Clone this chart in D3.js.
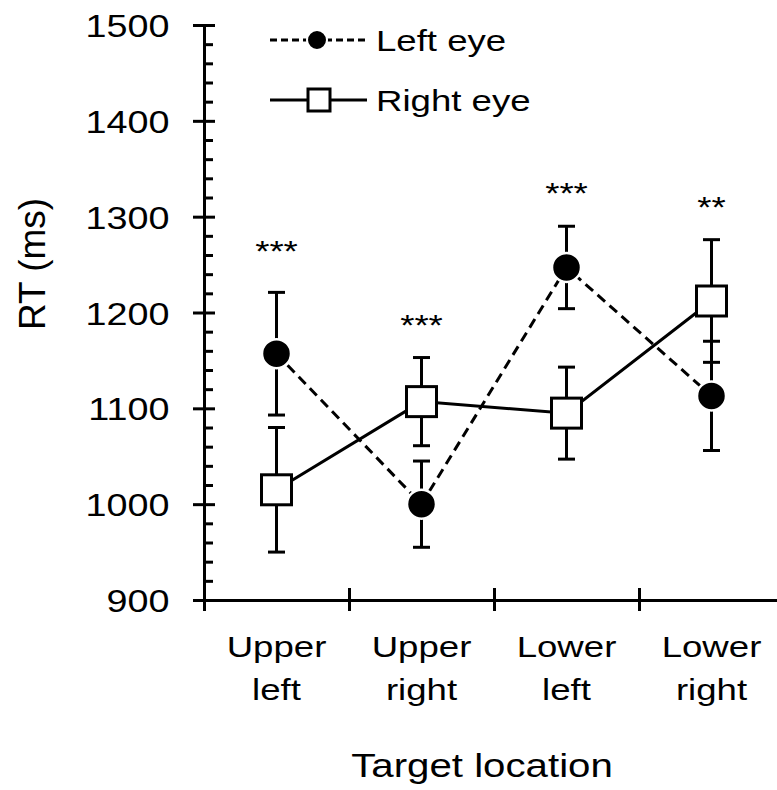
<!DOCTYPE html>
<html>
<head>
<meta charset="utf-8">
<script src="https://cdn.jsdelivr.net/npm/d3@7"></script>
<style>
body { margin: 0; background: #fff; }
text { font-family: "Liberation Sans", Arial, sans-serif; fill: #000; }
</style>
</head>
<body>
<svg width="777" height="790"></svg>
<script>
// values
var categories = ["Upper left", "Upper right", "Lower left", "Lower right"];
var categoryLines = [["Upper", "left"], ["Upper", "right"], ["Lower", "left"], ["Lower", "right"]];
var leftEyeRT = [1157, 1000, 1247, 1113];
var leftEyeErr = [64, 45, 43, 57];
var rightEyeRT = [1015, 1107, 1095, 1212];
var rightEyeErr = [65, 46, 48, 64];
var sigLabels = ["***", "***", "***", "**"];
var sigRT = [1254, 1177, 1314, 1300];
var yTicks = [900, 1000, 1100, 1200, 1300, 1400, 1500];

var svg = d3.select("svg");
var stretch = 1.22;

var x = d3.scaleBand().domain(categories).range([204, 784]);
var edge = d3.scaleLinear().domain([0, categories.length]).range([204, 784]);
var y = d3.scaleLinear().domain([900, 1500]).range([600, 25]);

function cx(i) { return x(categories[i]) + x.bandwidth() / 2; }

// y axis: labelled major ticks on the left, minor ticks inside
var yAxis = svg.append("g")
    .attr("transform", "translate(204,0)")
    .call(d3.axisLeft(y).tickValues(yTicks).tickFormat(d3.format("d")).tickSize(11).tickSizeOuter(0));
yAxis.select(".domain").attr("stroke-width", 3);
yAxis.selectAll(".tick line").attr("stroke-width", 3);
yAxis.selectAll(".tick text")
    .attr("x", null)
    .attr("dy", null)
    .attr("transform", "translate(-34.5,11.5) scale(1.18,1)")
    .style("font-size", "32px");

var yMinor = svg.append("g")
    .attr("transform", "translate(204,0)")
    .call(d3.axisRight(y).tickValues(d3.range(900, 1501, 20)).tickSize(9).tickFormat(""));
yMinor.select(".domain").remove();
yMinor.selectAll(".tick line")
    .attr("stroke-width", 3)
    .attr("x2", function(d) { return d % 100 === 0 ? 11 : 9; });

// x axis with ticks at the category edges
var xAxis = svg.append("g")
    .attr("transform", "translate(0,600)")
    .call(d3.axisBottom(edge).ticks(categories.length).tickSize(11).tickFormat("").tickSizeOuter(0));
xAxis.select(".domain").attr("stroke-width", 3);
xAxis.selectAll(".tick line").attr("stroke-width", 3);

var xTop = svg.append("g")
    .attr("transform", "translate(0,600)")
    .call(d3.axisTop(edge).ticks(categories.length).tickSize(12).tickFormat(""));
xTop.select(".domain").remove();
xTop.selectAll(".tick line").attr("stroke-width", 3);

// category labels
var catText = svg.append("g").selectAll("text")
    .data(categoryLines)
    .enter().append("text")
    .attr("text-anchor", "middle")
    .attr("transform", function(d, i) { return "translate(" + cx(i) + ",657) scale(" + stretch + ",1)"; })
    .style("font-size", "30px");
catText.selectAll("tspan")
    .data(function(d) { return d; })
    .enter().append("tspan")
    .attr("x", 0)
    .attr("dy", function(d, j) { return j === 0 ? 0 : 43.3; })
    .text(function(d) { return d; });

// axis titles
svg.append("text")
    .attr("text-anchor", "middle")
    .attr("transform", "translate(482,777) scale(" + stretch + ",1)")
    .style("font-size", "33px")
    .text("Target location");

svg.append("text")
    .attr("text-anchor", "middle")
    .attr("transform", "translate(45,264) rotate(-90)")
    .style("font-size", "37px")
    .text("RT (ms)");

// error bars
function errorBars(means, errs) {
    var g = svg.append("g").attr("stroke", "#000").attr("stroke-width", 3);
    means.forEach(function(m, i) {
        var top = y(m + errs[i]), bot = y(m - errs[i]), c = cx(i);
        g.append("line").attr("x1", c).attr("x2", c).attr("y1", top).attr("y2", bot);
        g.append("line").attr("x1", c - 8.5).attr("x2", c + 8.5).attr("y1", top).attr("y2", top);
        g.append("line").attr("x1", c - 8.5).attr("x2", c + 8.5).attr("y1", bot).attr("y2", bot);
    });
}
errorBars(leftEyeRT, leftEyeErr);
errorBars(rightEyeRT, rightEyeErr);

var line = d3.line()
    .x(function(d, i) { return cx(i); })
    .y(function(d) { return y(d); });

svg.append("path")
    .attr("d", line(rightEyeRT))
    .attr("fill", "none")
    .attr("stroke", "#000")
    .attr("stroke-width", 3);

svg.append("path")
    .attr("d", line(leftEyeRT))
    .attr("fill", "none")
    .attr("stroke", "#000")
    .attr("stroke-width", 3)
    .attr("stroke-dasharray", "10,6");

// markers
svg.append("g").selectAll("circle")
    .data(leftEyeRT)
    .enter().append("circle")
    .attr("cx", function(d, i) { return cx(i); })
    .attr("cy", function(d) { return y(d); })
    .attr("r", 14.5)
    .attr("fill", "#000")
    .attr("stroke", "#fff")
    .attr("stroke-width", 2.5);

svg.append("g").selectAll("rect")
    .data(rightEyeRT)
    .enter().append("rect")
    .attr("x", function(d, i) { return cx(i) - 15; })
    .attr("y", function(d) { return y(d) - 15; })
    .attr("width", 30)
    .attr("height", 30)
    .attr("fill", "#fff")
    .attr("stroke", "#000")
    .attr("stroke-width", 3);

// significance stars
svg.append("g").selectAll("text")
    .data(sigLabels)
    .enter().append("text")
    .attr("text-anchor", "middle")
    .attr("transform", function(d, i) { return "translate(" + cx(i) + "," + y(sigRT[i]) + ") scale(" + stretch + ",1)"; })
    .style("font-size", "30px")
    .text(function(d) { return d; });

// legend
var legend = svg.append("g");
legend.append("line")
    .attr("x1", 270).attr("x2", 367).attr("y1", 40).attr("y2", 40)
    .attr("stroke", "#000").attr("stroke-width", 3).attr("stroke-dasharray", "7,4");
legend.append("circle")
    .attr("cx", 317).attr("cy", 40).attr("r", 10)
    .attr("fill", "#000").attr("stroke", "#fff").attr("stroke-width", 2);
legend.append("text")
    .attr("transform", "translate(376,51) scale(" + stretch + ",1)")
    .style("font-size", "30px")
    .text("Left eye");

legend.append("line")
    .attr("x1", 270).attr("x2", 367).attr("y1", 100).attr("y2", 100)
    .attr("stroke", "#000").attr("stroke-width", 3);
legend.append("rect")
    .attr("x", 308).attr("y", 89).attr("width", 22).attr("height", 22)
    .attr("fill", "#fff").attr("stroke", "#000").attr("stroke-width", 3);
legend.append("text")
    .attr("transform", "translate(376,111) scale(" + stretch + ",1)")
    .style("font-size", "30px")
    .text("Right eye");
</script>
</body>
</html>
